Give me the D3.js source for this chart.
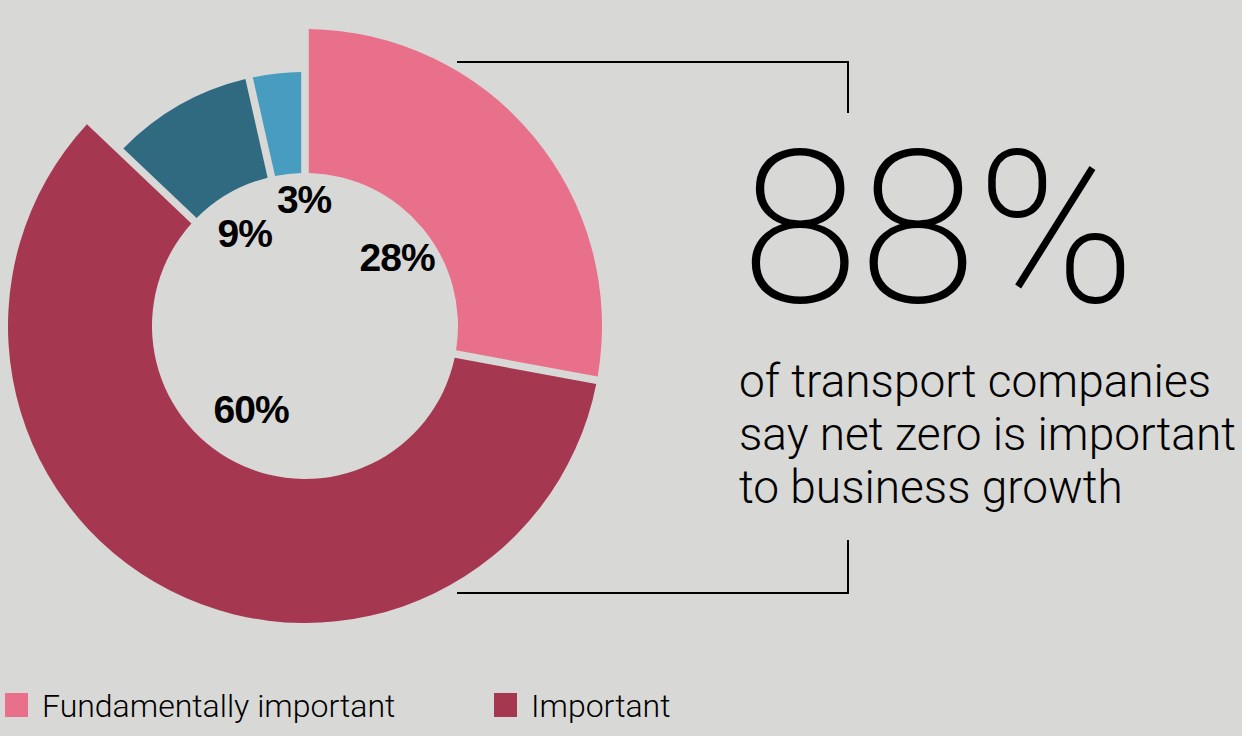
<!DOCTYPE html>
<html>
<head>
<meta charset="utf-8">
<script src="https://cdn.jsdelivr.net/npm/d3@7"></script>
<style>
  html, body { margin: 0; padding: 0; background: #d8d8d6; }
  svg { display: block; }
</style>
</head>
<body>
<svg id="chart" width="1242" height="736"></svg>
<script>
// Survey shares: how important net zero is to business growth
const categories = ["Fundamentally important", "Important", "Not very important", "Not at all important"];
const shares = [28, 60, 9, 3];
const shareLabels = ["28%", "60%", "9%", "3%"];
const legendItems = ["Fundamentally important", "Important"];

const headline = "88%";
const captionLines = ["of transport companies", "say net zero is important", "to business growth"];

// Styling and layout
const colors = ["#e8708a", "#a63750", "#2f6a80", "#489cc0"];
const emphasized = [true, true, false, false];
const bg = "#d8d8d6";
const cx = 305, cy = 326;
const innerR = 153, outerBig = 297, outerSmall = 254;
const labelR = 112;
const labelNudge = [[6, 3], [-3, -16.5], [-5, 4], [11.5, -15.5]];

const svg = d3.select("#chart");
svg.append("rect").attr("width", 1242).attr("height", 736).attr("fill", bg);

const data = categories.map((c, i) => ({ name: c, value: shares[i], label: shareLabels[i], i }));

const pie = d3.pie()
  .value(d => d.value)
  .sort(null)
  .padAngle(0.038);

const arc = d3.arc()
  .innerRadius(innerR)
  .outerRadius(d => emphasized[d.data.i] ? outerBig : outerSmall)
  .padRadius(200);

const labelArc = d3.arc().innerRadius(labelR).outerRadius(labelR);

const arcs = pie(data);
const g = svg.append("g").attr("transform", `translate(${cx},${cy})`);

g.selectAll("path.slice")
  .data(arcs)
  .join("path")
  .attr("class", "slice")
  .attr("d", arc)
  .attr("fill", d => colors[d.data.i]);

g.selectAll("text.pct")
  .data(arcs)
  .join("text")
  .attr("class", "pct")
  .attr("x", d => labelArc.centroid(d)[0] + labelNudge[d.data.i][0])
  .attr("y", d => labelArc.centroid(d)[1] + labelNudge[d.data.i][1])
  .attr("dy", "0.36em")
  .attr("text-anchor", "middle")
  .attr("font-family", "'Liberation Sans', Arial, sans-serif")
  .attr("font-weight", 700)
  .attr("font-size", 39)
  .attr("letter-spacing", -1)
  .attr("fill", "#000")
  .text(d => d.data.label);

// Bracket framing the callout
const bracket = svg.append("g").attr("fill", "none").attr("stroke", "#000").attr("stroke-width", 2);
bracket.append("path").attr("d", "M457,62 H848 V113");
bracket.append("path").attr("d", "M457,593 H848 V540");

// Headline figure and caption
svg.append("text")
  .attr("x", 741)
  .attr("y", 302)
  .attr("font-family", "Roboto, sans-serif")
  .attr("font-weight", 200)
  .attr("font-size", 214)
  .attr("fill", "#000")
  .text(headline);

svg.append("g")
  .selectAll("text")
  .data(captionLines)
  .join("text")
  .attr("x", 739)
  .attr("y", (d, i) => 397 + i * 53)
  .attr("font-family", "Roboto, sans-serif")
  .attr("font-weight", 300)
  .attr("font-size", 46)
  .attr("fill", "#000")
  .text(d => d);

// Legend
const legendX = [5, 494];
const legend = svg.append("g")
  .selectAll("g")
  .data(legendItems)
  .join("g")
  .attr("transform", (d, i) => `translate(${legendX[i]},693)`);
legend.append("rect")
  .attr("width", 23).attr("height", 24)
  .attr("fill", (d, i) => colors[categories.indexOf(d)]);
legend.append("text")
  .attr("x", 37)
  .attr("y", 24)
  .attr("font-family", "Roboto, sans-serif")
  .attr("font-weight", 300)
  .attr("font-size", 32)
  .attr("fill", "#000")
  .text(d => d);
</script>
</body>
</html>
